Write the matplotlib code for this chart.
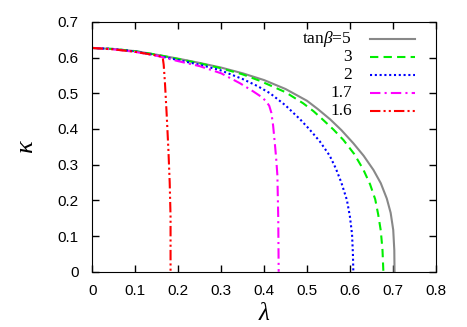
import matplotlib
matplotlib.use('Agg')
import matplotlib.pyplot as plt

# curves: lambda (x) and kappa (y) for each tan(beta)
lam_5 = [0, 0.05, 0.1, 0.15, 0.2, 0.25, 0.3, 0.35, 0.4, 0.45, 0.5, 0.525, 0.554, 0.58, 0.608,
         0.632, 0.655, 0.672, 0.686, 0.695, 0.701, 0.7035, 0.704]
kap_5 = [0.627, 0.624, 0.618, 0.608, 0.597, 0.585, 0.572, 0.556, 0.537, 0.512, 0.479, 0.456, 0.427, 0.397, 0.36,
         0.325, 0.285, 0.248, 0.205, 0.165, 0.117, 0.06, 0]

lam_3 = [0, 0.05, 0.1, 0.15, 0.2, 0.25, 0.3, 0.35, 0.39, 0.45, 0.491, 0.515, 0.538, 0.562, 0.585,
         0.61, 0.631, 0.647, 0.659, 0.666, 0.672, 0.676, 0.678]
kap_3 = [0.627, 0.624, 0.618, 0.608, 0.596, 0.584, 0.570, 0.553, 0.535, 0.503, 0.472, 0.450, 0.425, 0.398, 0.369,
         0.330, 0.287, 0.245, 0.203, 0.160, 0.115, 0.06, 0]

lam_2 = [0, 0.05, 0.1, 0.15, 0.2, 0.25, 0.297, 0.35, 0.385, 0.414, 0.45, 0.484, 0.505, 0.53, 0.553,
         0.567, 0.58, 0.593, 0.6, 0.605, 0.607, 0.608]
kap_2 = [0.627, 0.624, 0.617, 0.606, 0.593, 0.580, 0.565, 0.540, 0.520, 0.500, 0.466, 0.427, 0.400, 0.365, 0.325,
         0.290, 0.250, 0.201, 0.155, 0.105, 0.05, 0]

lam_17 = [0, 0.05, 0.1, 0.15, 0.2, 0.25, 0.3, 0.344, 0.375, 0.395, 0.405, 0.412, 0.417, 0.421, 0.425,
          0.428, 0.431, 0.433, 0.434]
kap_17 = [0.627, 0.623, 0.616, 0.605, 0.590, 0.576, 0.556, 0.528, 0.505, 0.489, 0.477, 0.465, 0.445, 0.41, 0.36,
          0.32, 0.27, 0.15, 0]

lam_16 = [0, 0.05, 0.1, 0.15, 0.16, 0.164, 0.166, 0.169, 0.173, 0.177, 0.18, 0.182, 0.182]
kap_16 = [0.627, 0.623, 0.616, 0.606, 0.603, 0.598, 0.58, 0.528, 0.44, 0.341, 0.25, 0.154, 0]

labels = [r'tan$\beta$=5', '3', '2', '1.7', '1.6']
xticks = [0, 0.1, 0.2, 0.3, 0.4, 0.5, 0.6, 0.7, 0.8]
yticks = [0, 0.1, 0.2, 0.3, 0.4, 0.5, 0.6, 0.7]
tick_labels_x = ['0', '0.1', '0.2', '0.3', '0.4', '0.5', '0.6', '0.7', '0.8']
tick_labels_y = ['0', '0.1', '0.2', '0.3', '0.4', '0.5', '0.6', '0.7']

plt.rcParams['font.family'] = ['Liberation Sans', 'DejaVu Sans']
plt.rcParams['mathtext.fontset'] = 'custom'
plt.rcParams['mathtext.it'] = 'Liberation Serif:italic'
plt.rcParams['mathtext.rm'] = 'Liberation Serif'

fig = plt.figure(figsize=(4.67, 3.27), dpi=100)
ax = fig.add_axes([0.198, 0.169, 0.735, 0.764])

colors = ['#888888', '#00ee00', '#0000ff', '#ff00ff', '#ff0000']
styles = ['-', (0, (4, 2.5)), (0, (1, 1.3)), (0, (5, 2, 1, 2)), (0, (5, 1.5, 1, 1.5, 1, 1.5))]
curves = [(lam_5, kap_5), (lam_3, kap_3), (lam_2, kap_2), (lam_17, kap_17), (lam_16, kap_16)]

for (lx, ky), c, s in zip(curves, colors, styles):
    ax.plot(lx, ky, color=c, lw=1.5, ls=s)

ax.set_xlim(0, 0.8)
ax.set_ylim(0, 0.7)
ax.set_xticks(xticks)
ax.set_xticklabels(tick_labels_x)
ax.set_yticks(yticks)
ax.set_yticklabels(tick_labels_y)
ax.tick_params(direction='in', length=5, width=1, top=True, right=True, labelsize=11)
ax.tick_params(axis='x', pad=9)
ax.tick_params(axis='y', pad=10)

ax.set_xlabel(r'$\lambda$', fontsize=18, labelpad=2)
ax.set_ylabel(r'$\kappa$', fontsize=19, labelpad=14)

# gnuplot-style key: labels right-aligned, sample line to their right
for i, (lab, c, s) in enumerate(zip(labels, colors, styles)):
    yk = 0.932 - i * 0.072
    ax.text(0.755, yk, lab, transform=ax.transAxes, ha='right', va='center',
            family='Liberation Serif', fontsize=12.5)
    ax.plot([0.808, 0.940], [yk, yk], transform=ax.transAxes, color=c, lw=1.5, ls=s)

fig.savefig('out.png', dpi=100)
